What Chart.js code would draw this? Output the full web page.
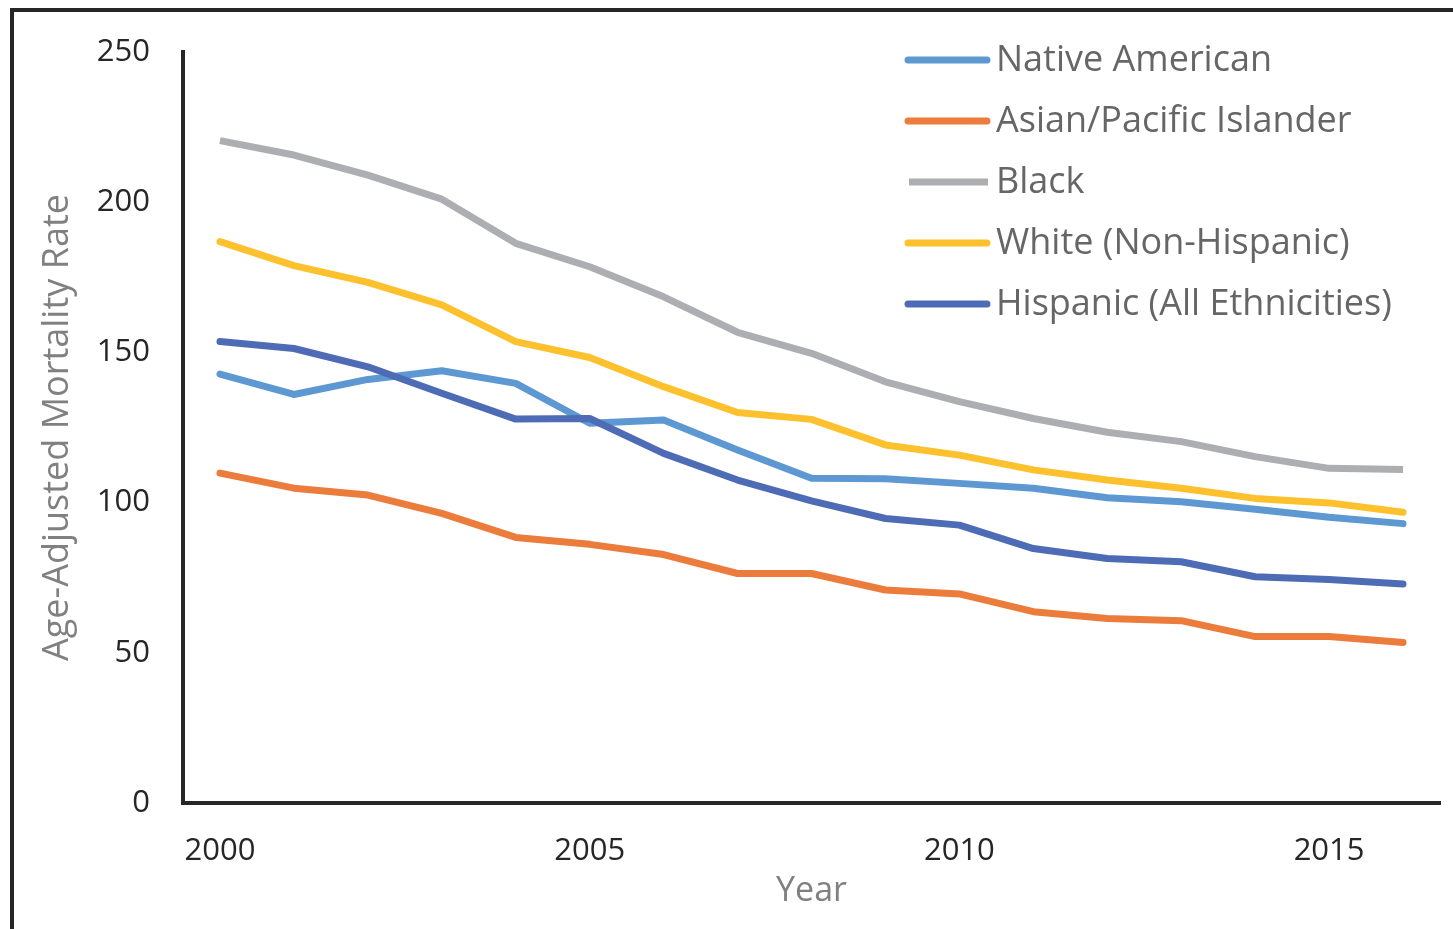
<!DOCTYPE html>
<html>
<head>
<meta charset="utf-8">
<script src="https://cdn.jsdelivr.net/npm/chart.js@4.4.1/dist/chart.umd.min.js"></script>
<style>
  html, body { margin: 0; padding: 0; background: #fff; }
  canvas { display: block; }
</style>
</head>
<body>
<canvas id="myChart" width="1453" height="929"></canvas>
<script>
let years = ['2000', '2001', '2002', '2003', '2004', '2005', '2006', '2007', '2008',
             '2009', '2010', '2011', '2012', '2013', '2014', '2015', '2016'];
let shownYears = ['2000', '2005', '2010', '2015'];
let yTicks = [0, 50, 100, 150, 200, 250];

let seriesNames = ['Native American', 'Asian/Pacific Islander', 'Black',
                   'White (Non-Hispanic)', 'Hispanic (All Ethnicities)'];
let nativeAmerican = [142.8, 136.0, 141.0, 143.9, 139.7, 126.4, 127.5, 117.5, 108.1,
                      107.9, 106.4, 104.8, 101.6, 100.3, 97.8, 95.1, 93.0];
let asianPacific = [109.8, 104.8, 102.5, 96.4, 88.4, 86.1, 82.7, 76.4, 76.4,
                    70.9, 69.6, 63.7, 61.4, 60.7, 55.4, 55.4, 53.4];
let black = [220.5, 215.7, 209.0, 201.0, 186.3, 178.5, 168.5, 156.7, 149.7,
             140.2, 133.6, 128.0, 123.4, 120.3, 115.3, 111.4, 111.0];
let white = [186.9, 178.9, 173.3, 165.8, 153.6, 148.3, 138.6, 130.0, 127.7,
             119.2, 115.8, 110.9, 107.5, 104.8, 101.4, 99.9, 96.8];
let hispanic = [153.6, 151.3, 145.2, 136.4, 127.8, 128.0, 116.4, 107.5, 100.6,
                94.7, 92.5, 84.7, 81.4, 80.3, 75.3, 74.4, 72.9];

let colorHex = ['#5e98d2', '#ec7c3b', '#adaeb1', '#fcc12d', '#4e6cb5'];
let caps = ['round', 'round', 'butt', 'round', 'round'];
let seriesValues = [nativeAmerican, asianPacific, black, white, hispanic];

const axisColor = '#262626';
const fontFamily = "'Open Sans', 'Noto Sans', sans-serif";

// outer frame of the figure (only top and left edges fall inside the canvas)
const framePlugin = {
    id: 'frame',
    beforeDraw(chart) {
        const c = chart.ctx;
        c.save();
        c.fillStyle = '#fff';
        c.fillRect(0, 0, chart.width, chart.height);
        c.strokeStyle = axisColor;
        c.lineWidth = 4;
        c.beginPath();
        c.moveTo(12, chart.height);
        c.lineTo(12, 10);
        c.lineTo(chart.width, 10);
        c.stroke();
        c.restore();
    }
};

// legend drawn inside the plot, top right
const legendPlugin = {
    id: 'insideLegend',
    afterDraw(chart) {
        const c = chart.ctx;
        c.save();
        c.font = '36px ' + fontFamily;
        c.textBaseline = 'middle';
        c.textAlign = 'left';
        chart.data.datasets.forEach((ds, i) => {
            const y = 60 + i * 61;
            c.strokeStyle = ds.borderColor;
            c.lineWidth = 7;
            c.lineCap = ds.borderCapStyle;
            c.beginPath();
            if (ds.borderCapStyle === 'butt') {
                c.moveTo(909, y);
                c.lineTo(988, y);
            } else {
                c.moveTo(908, y);
                c.lineTo(987, y);
            }
            c.stroke();
            c.fillStyle = '#666666';
            c.fillText(ds.label, 996, y + 1);
        });
        c.restore();
    }
};

let ctx = document.getElementById('myChart').getContext('2d');

let myChart = new Chart(ctx, {
    type: 'line',
    data: {
        labels: years,
        datasets: seriesNames.map((name, i) => ({
            label: name,
            data: seriesValues[i],
            borderColor: colorHex[i],
            backgroundColor: colorHex[i],
            borderWidth: 7,
            borderCapStyle: caps[i],
            borderJoinStyle: 'round',
            pointRadius: 0,
            tension: 0,
            fill: false,
            order: 4 - i
        }))
    },
    options: {
        responsive: false,
        animation: false,
        devicePixelRatio: 1,
        layout: {
            padding: { top: 52, right: 13, bottom: 0, left: 0 }
        },
        plugins: {
            legend: { display: false },
            tooltip: { enabled: false }
        },
        scales: {
            x: {
                type: 'category',
                offset: true,
                grid: { display: false, drawTicks: false },
                border: { display: true, color: axisColor, width: 4 },
                ticks: {
                    autoSkip: false,
                    maxRotation: 0,
                    padding: 30,
                    color: axisColor,
                    font: { family: fontFamily, size: 31 },
                    callback: function (value) {
                        const label = this.getLabelForValue(value);
                        return shownYears.includes(label) ? label : '';
                    }
                },
                title: {
                    display: true,
                    text: 'Year',
                    color: '#808080',
                    font: { family: fontFamily, size: 34 },
                    padding: { top: 0, bottom: 17 }
                },
                afterFit: (scale) => { scale.height = 126; }
            },
            y: {
                min: 0,
                max: 250,
                grid: { display: false, drawTicks: false },
                border: { display: true, color: axisColor, width: 4 },
                afterBuildTicks: (scale) => {
                    scale.ticks = yTicks.map(v => ({ value: v }));
                },
                ticks: {
                    padding: 33,
                    color: axisColor,
                    font: { family: fontFamily, size: 31 }
                },
                title: {
                    display: true,
                    text: 'Age-Adjusted Mortality Rate',
                    color: '#808080',
                    font: { family: fontFamily, size: 36 },
                    padding: { top: 36, bottom: 0 }
                },
                afterFit: (scale) => { scale.width = 183; }
            }
        }
    },
    plugins: [framePlugin, legendPlugin]
});
</script>
</body>
</html>
